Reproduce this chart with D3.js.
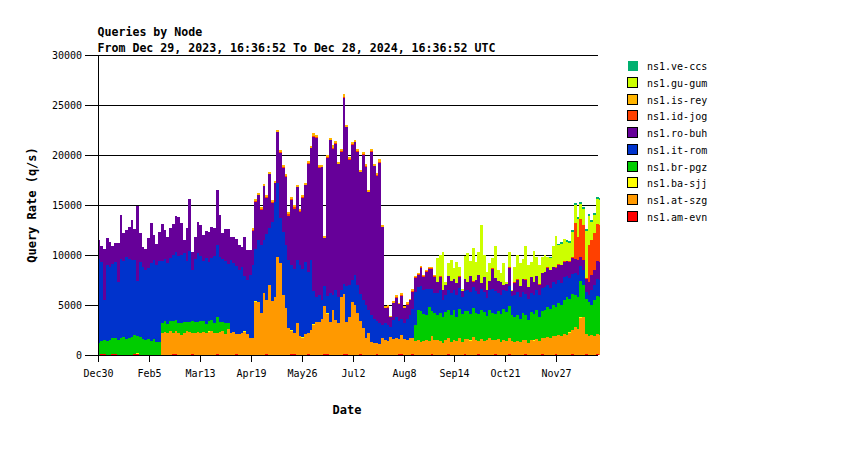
<!DOCTYPE html>
<html>
<head>
<meta charset="utf-8">
<script src="https://cdn.jsdelivr.net/npm/d3@7/dist/d3.min.js"></script>
<style>
  body { margin: 0; background: #fff; }
  text { font-family: "DejaVu Sans Mono", "Liberation Mono", monospace; }
</style>
</head>
<body>
<svg id="chart" width="850" height="450"></svg>
<script>
// ---- DATA (2-day bins, values in thousands of q/s) ----
const seriesNames = ["ns1.am-evn","ns1.at-szg","ns1.ba-sjj","ns1.br-pgz","ns1.it-rom","ns1.ro-buh","ns1.id-jog","ns1.is-rey","ns1.gu-gum","ns1.ve-ccs"];
const seriesColors = ["#ff0000","#ff9900","#ffff00","#00cc00","#0033cc","#660099","#ff4000","#ffb400","#ccff00","#00b070"];

const amEvn = [0,0.1,0.1,0,0,0.1,0.1,0,0,0, 0,0,0,0.1,0.1,0,0,0,0,0, 0,0,0,0,0,0,0,0.1,0.1,0, 0,0,0,0,0.1,0,0,0,0,0,
 0,0,0,0.1,0,0,0,0,0,0, 0.1,0,0,0,0,0,0,0,0,0, 0,0.1,0,0,0,0,0,0,0,0, 0.1,0.1,0,0,0,0,0.1,0,0,0,
 0,0,0.1,0.1,0,0,0,0,0,0.1, 0.1,0,0,0,0,0.1,0,0,0,0, 0,0.1,0,0,0,0,0,0,0,0.1, 0.1,0,0,0,0.1,0,0,0,0,0,
 0,0.1,0,0,0,0,0,0.1,0,0, 0,0,0,0.1,0,0,0,0,0.1,0, 0,0,0,0,0.1,0,0,0,0,0.1, 0,0,0,0,0,0.1,0,0,0,0,
 0,0.1,0,0,0,0,0.1,0,0,0, 0,0,0.1,0,0,0,0,0.1,0,0, 0,0.1,0];

const atSzg = [0,0,0,0,0,0,0,0,0,0,0,0,0,0,0,0,0,0,0,0,0,0,0,
 2.2,2.3,2.2,2.4,2.1,2.3,2.2,2.0,2.2,2.4,2.3,2.1,2.2,2.3,2.2,2.3,2.2,2.3,2.4,2.2,2.1,2.3,2.4,2.1,2.6,2.2,2.3,2.0,2.1,2.2,2.3,2.1,1.7,1.7,
 5.3,5.3,4.2,6.2,5.4,7.0,5.4,5.8,9.8,9.2,6.0,4.7,2.7,2.3,2.1,3.2,1.9,1.7,2.1,2.1,2.5,3.0,3.3,3.3,3.6,4.8,4.0,3.3,4.5,3.5,3.2,5.8,6.0,3.2,3.8,5.3,5.0,4.2,3.3,2.7,1.7,2.2,1.3,1.2,1.1,1.1,1.7,
 1.5,1.4,1.8,1.6,1.7,1.5,1.9,1.6,1.5,1.7,1.6,
 1.4,1.5,1.3,1.4,1.5,1.4,1.8,1.5,1.5,1.4,1.2,1.5,1.6,1.3,1.5,1.4,1.7,1.3,1.5,1.6,1.4,1.8,1.5,1.3,1.6,1.4,1.5,1.7,1.5,1.4,1.6,1.3,1.5,1.4,1.6,1.4,
 1.3,1.4,1.3,1.5,1.4,1.2,1.5,1.4,1.6,1.4,1.6,1.7,1.8,1.7,1.9,1.8,2.0,1.9,2.1,2.0,2.2,2.4,2.8,2.6,3.7,3.8,2.0,1.9,2.0,1.9,2.0,2.0];

const baSjj = [0,0,0,0,0,0,0,0,0,0, 0,0,0,0,0.1,0,0,0,0,0, 0,0,0,0,0,0,0,0,0,0, 0,0,0,0,0,0,0,0,0,0,
 0.1,0,0,0,0,0,0,0,0,0, 0,0,0,0.1,0,0,0,0.1,0,0, 0,0,0,0,0,0,0,0,0,0, 0.1,0,0,0,0.1,0,0,0,0.1,0,
 0,0,0,0.1,0,0,0,0,0,0, 0,0,0,0,0,0,0,0,0,0, 0,0,0,0,0,0,0,0,0,0, 0,0,0,0,0,0,0,0,0,0,
 0,0,0,0,0,0,0,0,0,0, 0,0,0,0,0,0.1,0,0,0,0, 0,0,0,0,0,0,0,0,0,0, 0,0,0,0,0,0,0,0,0.1,0,
 0,0,0,0,0,0,0,0,0,0, 0,0.1,0,0,0,0.1,0,0,0,0, 0,0,0];

const brPgz = [1.2,1.3,1.4,1.4,1.5,1.6,1.6,1.5,1.7,1.8,1.6,1.7,1.8,1.9,1.7,1.8,1.6,1.5,1.6,1.4,1.6,1.3,1.3,
 1.0,1.1,0.9,1.0,1.2,1.1,1.0,1.2,1.1,0.9,1.0,1.2,1.1,1.0,1.2,1.1,0.9,1.0,1.1,1.0,1.6,1.0,0.9,1.1,0.6,0,0,0,0,0,0,0,0,0,
 0,0,0,0,0,0,0,0,0,0,0,0,0,0,0,0,0,0,0,0,0,0,0,0,0,0,0,0,0,0,0,0,0,0,0,0,0,0,0,0,0,0,0,0,0,0,0,
 0,0,0,0,0,0,0,0,0,0,0,
 1.6,3.0,3.1,2.7,2.5,3.4,2.5,2.7,2.5,2.8,2.6,2.8,2.8,2.7,3.0,2.4,2.9,2.8,2.8,2.8,2.6,2.9,2.7,2.7,2.9,2.9,2.4,2.8,2.7,2.6,2.8,2.8,3.1,2.9,3.2,2.6,
 2.5,2.6,2.3,2.7,2.5,2.3,2.8,2.6,2.9,2.4,2.7,2.8,3.0,2.9,3.1,2.9,3.2,3.1,3.4,3.8,3.3,3.6,3.2,3.2,3.6,3.2,3.5,3.4,3.0,3.6,3.8,3.8];

const itRom = [8.4,7.9,4.0,7.6,7.3,7.4,7.6,5.8,7.9,7.6,8.2,7.9,7.7,7.5,5.5,7.5,7.2,7.0,7.1,7.8,7.9,7.7,8.1,
 6.2,6.2,6.1,6.3,6.6,6.8,6.7,6.8,6.9,6.1,7.1,5.1,6.3,6.9,6.5,6.0,6.6,5.9,6.2,6.7,7.2,6.5,6.3,6.2,5.9,7.3,6.9,6.8,6.4,6.6,5.5,5.4,6.3,7.3,
 5.2,6.2,6.8,5.3,6.6,5.7,7.9,9.5,7.4,4.5,6.3,6.3,6.8,6.5,6.4,6.3,7.1,6.8,7.2,6.1,7.0,3.3,2.5,2.7,1.9,2.0,1.7,2.9,1.5,3.0,2.6,0.7,1.0,3.6,3.2,2.2,3.0,2.8,2.7,2.8,3.3,2.3,2.7,2.4,2.2,2.1,1.3,
 1.7,1.6,1.0,1.9,2.1,1.8,1.6,1.6,2.1,2.3,2.9,
 3.3,2.3,2.5,2.4,2.6,1.8,2.2,2.0,2.2,2.3,1.7,1.7,2.0,2.2,2.0,2.2,2.1,1.7,2.0,2.1,2.2,2.1,2.2,2.0,2.1,2.0,1.8,2.0,2.4,2.3,1.8,1.9,1.9,2.1,2.0,1.9,
 2.2,2.3,2.2,2.1,2.1,2.1,1.9,1.9,2.0,2.2,2.3,2.3,2.2,2.1,2.3,2.3,2.3,2.2,2.3,2.1,2.1,2.0,2.2,2.2,1.5,1.5,0.7,0.7,1.5,1.5,1.7,1.7];

const roBuh = [1.9,1.6,5.1,2.7,2.5,1.8,1.9,3.9,4.4,2.8,2.7,3.2,4.0,3.1,7.5,2.9,2.0,2.1,3.0,4.0,2.5,2.1,2.9,
 3.7,2.9,2.6,3.0,3.1,3.6,3.9,3.2,1.3,3.3,5.2,1.8,2.2,3.1,3.1,2.6,2.7,3.0,3.1,2.8,5.5,4.2,2.6,3.2,3.5,2.3,2.6,2.7,2.5,2.0,3.9,3.0,2.5,3.4,
 4.7,4.5,3.5,5.4,3.6,5.4,1.9,1.9,5.1,6.5,6.4,6.8,4.4,6.5,6.0,7.3,5.3,7.1,7.7,10.8,11.2,15.4,15.9,12.7,13.3,4.8,13.8,15.3,14.6,14.6,13.3,13.8,18.6,15.9,12.5,13.5,13.3,13.3,12.2,14.5,13.8,11.8,16.3,15.3,14.5,16.0,9.8,
 1.5,1.7,1.0,1.7,1.9,1.7,2.3,1.5,1.4,1.5,1.7,
 1.4,1.2,1.8,1.3,1.7,2.0,2.0,1.6,1.1,1.3,1.0,1.0,1.4,1.2,1.1,1.2,1.1,0.6,1.2,0.8,1.6,0.5,1.1,1.9,0.6,1.5,0.8,0.9,2.0,1.3,1.2,1.3,0.5,0.7,1.8,0.5,
 1.2,1.2,1.1,1.3,1.4,1.2,1.6,1.3,1.4,1.0,1.5,1.5,1.7,1.8,1.5,1.6,1.5,1.8,1.5,1.5,1.6,1.6,1.4,1.5,0.9,1.0,1.3,1.3,1.5,1.5,1.8,1.8];

const idJog = [0,0,0,0,0,0,0,0,0,0,0,0,0,0,0,0,0,0,0,0,0,0,0,0,0,0,0,0,0,0,0,0,0,0,0,0,0,0,0,0,0,0,0,0,0,0,0,0,0,0,0,0,0,0,0,0,
 0.15,0.15,0,0.15,0,0.15,0,0.15,0,0,0.15,0.15,0.15,0.2,0.15,0.2,0,0.15,0.15,0,0.15,0,0.15,0.15,0.15,0,0,0.15,0,0.15,0.15,0,0.15,0.15,0,0.15,0.15,0,0.15,0,0.15,0.15,0,0.15,0,0.15,0.15,0,
 0,0.15,0,0,0.15,0,0.1,0,0.15,0,0.1,
 0.1,0.1,0.1,0.1,0.1,0.15,0.1,0.1,0,0.1,0,0,0,0,0,0,0.1,0,0,0,0,0.1,0,0,0,0,0,0,0.1,0,0,0,0,0,0.1,0,
 0.1,0.1,0,0,0.1,0,0,0,0,0.1,0,0,0.1,0,0,0.1,0.1,0,0.1,0,0.1,0.1,3.6,2.3,3.8,3.5,0.1,3.7,3.5,3.7,3.7,3.7];

const isRey = [0,0,0,0,0,0,0,0,0,0,0,0,0,0,0,0,0,0,0,0,0,0,0,0,0,0,0,0,0,0,0,0,0,0,0,0,0,0,0,0,0,0,0,0,0,0,0,0,0,0,0,0,0,0,0,0,
 0.15,0.2,0.2,0.2,0.25,0.2,0.2,0.2,0.2,0.25,0.2,0.2,0.2,0.2,0.2,0.2,0.25,0.2,0.2,0.2,0.2,0.2,0.25,0.2,0.2,0.2,0.2,0.2,0.2,0.25,0.2,0.2,0.2,0.25,0.2,0.2,0.2,0.2,0.2,0.25,0.2,0.2,0.2,0.2,0.2,0.2,0.25,0.2,
 0.2,0.2,0.15,0.2,0.2,0.15,0.2,0.2,0.2,0.15,0.2,
 0.1,0.1,0.1,0.1,0.1,0.1,0.1,0.1,0,0,0,0,0,0,0,0,0,0,0,0,0,0,0,0,0,0,0,0,0,0,0,0,0,0,0,0,
 0,0,0,0,0,0,0,0,0,0,0,0,0,0,0,0,0,0,0,0,0,0,0,0,0,0,0,0,0,0,0,0];

const guGum = [0,0,0,0,0,0,0,0,0,0,0,0,0,0,0,0,0,0,0,0,0,0,0,0,0,0,0,0,0,0,0,0,0,0,0,0,0,0,0,0,0,0,0,0,0,0,0,0,0,0,0,0,0,0,0,0,0,0,0,0,0,
 0,0,0,0,0,0,0,0,0,0,0,0,0,0,0,0,0,0,0,0,0,0,0,0,0,0,0,0,0,0,0,0,0,0,0,0,0,0,0,0,0,0,0,0,0,0,0,0,0,0,0,0,0,0,0,0,0,0,0,0,0,0,
 2.4,2.1,3.8,0.3,1.3,2.1,1.1,2.1,0.9,0.2,2.3,2.9,1.5,3.3,1.8,2.3,5.8,2.2,1.8,1.8,1.0,3.2,1.1,0.9,2.2,0.2,1.5,0.1,
 1.5,2.4,2.3,2.0,3.3,2.2,1.5,3.1,1.9,1.9,1.6,1.75,1.0,1.2,2.15,3.15,1.9,2.15,2.25,1.95,1.85,2.55,1.85,1.85,1.55,1.65,4.75,2.95,1.85,1.85,2.55,2.55];

const veCcs = [0,0,0,0,0,0,0,0,0,0,0,0,0,0,0,0,0,0,0,0,0,0,0,0,0,0,0,0,0,0,0,0,0,0,0,0,0,0,0,0,0,0,0,0,0,0,0,0,0,0,0,0,0,0,0,0,0,0,0,0,0,
 0,0,0,0,0,0,0,0,0,0,0,0,0,0,0,0,0,0,0,0,0,0,0,0,0,0,0,0,0,0,0,0,0,0,0,0,0,0,0,0,0,0,0,0,0,0,0,0,0,0,0,0,0,0,0,0,0,0,0,0,0,0,
 0,0,0,0,0,0,0,0,0,0,0,0,0,0,0,0,0,0,0,0,0,0,0,0,0,0,0,0,0,0,0,0,0,0,0,0,0,0,0,0,0,
 0.15,0,0,0.15,0.15,0,0.15,0.15,0.15,0.15,0.15,0.15,0.15,0.15,0.15,0.15,0.15,0.15,0.15,0.15,0.15];

const seriesValues = [amEvn, atSzg, baSjj, brPgz, itRom, roBuh, idJog, isRey, guGum, veCcs];
const UNIT = 1000;  // values above are thousands of q/s

const startTime = "2023-12-29T16:36:52Z";
const endTime = "2024-12-28T16:36:52Z";
const binDays = 2;

const yTickValues = [0, 5000, 10000, 15000, 20000, 25000, 30000];
const xTickDates = ["2023-12-30","2024-02-05","2024-03-13","2024-04-19","2024-05-26","2024-07-02","2024-08-08","2024-09-14","2024-10-21","2024-11-27"];
const xTickLabels = ["Dec30","Feb5","Mar13","Apr19","May26","Jul2","Aug8","Sep14","Oct21","Nov27"];

const titleLines = ["Queries by Node", "From Dec 29, 2023, 16:36:52 To Dec 28, 2024, 16:36:52 UTC"];
const xAxisTitle = "Date";
const yAxisTitle = "Query Rate (q/s)";

// ---- CHART ----
(function () {
const svg = d3.select("#chart");
const pL = 97.5, pR = 600, pT = 55, pB = 355;
const t0 = new Date(startTime), t1 = new Date(endTime);
const x = d3.scaleTime().domain([t0, t1]).range([pL, pR]);
const y = d3.scaleLinear().domain([0, 30000]).range([pB, pT]);

const nBins = amEvn.length;
const rows = d3.range(nBins).map(i => {
  const r = { date: new Date(t0.getTime() + i * binDays * 86400000) };
  seriesNames.forEach((n, k) => r[n] = seriesValues[k][i] * UNIT);
  return r;
});
rows.push(Object.assign({}, rows[rows.length - 1], { date: t1 }));

const stacked = d3.stack().keys(seriesNames)(rows);

svg.append("defs").append("clipPath").attr("id", "plotclip")
  .append("rect").attr("x", pL).attr("y", 0).attr("width", pR - pL).attr("height", pB + 1);

// gridlines (behind data)
svg.append("g").selectAll("line").data(yTickValues).join("line")
  .attr("x1", 85).attr("x2", pR - 2)
  .attr("y1", d => Math.round(y(d)) + 0.5).attr("y2", d => Math.round(y(d)) + 0.5)
  .attr("stroke", "#000").attr("stroke-width", 1).attr("shape-rendering", "crispEdges");

const area = d3.area()
  .curve(d3.curveStepAfter)
  .x(d => x(d.data.date))
  .y0(d => y(d[0]))
  .y1(d => y(d[1]));

svg.append("g").attr("clip-path", "url(#plotclip)")
  .selectAll("path").data(stacked).join("path")
  .attr("d", area)
  .attr("fill", (d, i) => seriesColors[i])
  .attr("shape-rendering", "crispEdges");

// axes lines
svg.append("line").attr("x1", Math.round(pL) + 0.5).attr("x2", Math.round(pL) + 0.5)
  .attr("y1", pT).attr("y2", pB + 1).attr("stroke", "#000").attr("shape-rendering", "crispEdges");
svg.append("line").attr("x1", 85).attr("x2", pR - 2)
  .attr("y1", pB + 0.5).attr("y2", pB + 0.5).attr("stroke", "#000").attr("shape-rendering", "crispEdges");

// y tick labels
svg.append("g").selectAll("text").data(yTickValues).join("text")
  .attr("x", 82).attr("y", d => y(d) + 4)
  .attr("text-anchor", "end").attr("font-size", 10).attr("fill", "#000")
  .text(d => d3.format("d")(d));

// x ticks
const parseDay = d3.utcParse("%Y-%m-%d");
const xt = svg.append("g").selectAll("g").data(xTickDates).join("g")
  .attr("transform", d => `translate(${Math.round(x(parseDay(d))) + 0.5},0)`);
xt.append("line").attr("y1", pB).attr("y2", pB + 7).attr("stroke", "#000").attr("shape-rendering", "crispEdges");
xt.append("text").attr("y", pB + 22).attr("text-anchor", "middle").attr("font-size", 10).attr("fill", "#000")
  .text((d, i) => xTickLabels[i]);

// titles
svg.append("g").selectAll("text").data(titleLines).join("text")
  .attr("x", pL).attr("y", (d, i) => 36 + i * 16)
  .attr("font-size", 11.6).attr("font-weight", "bold").attr("fill", "#000")
  .text(d => d);

svg.append("text").attr("x", 347).attr("y", 414).attr("text-anchor", "middle")
  .attr("font-size", 12).attr("font-weight", "bold").text(xAxisTitle);
svg.append("text").attr("transform", "translate(36,205) rotate(-90)").attr("text-anchor", "middle")
  .attr("font-size", 12).attr("font-weight", "bold").text(yAxisTitle);

// legend (top = last series)
const legendOrder = seriesNames.map((n, i) => i).reverse();
const lg = svg.append("g").selectAll("g").data(legendOrder).join("g")
  .attr("transform", (d, i) => `translate(627.5,${60.5 + i * 16.78})`);
lg.append("rect").attr("width", 10).attr("height", 10)
  .attr("fill", d => seriesColors[d])
  .attr("stroke", d => seriesNames[d] === "ns1.ve-ccs" ? "none" : "#000")
  .attr("shape-rendering", "crispEdges");
lg.append("text").attr("x", 19.5).attr("y", 9.5).attr("font-size", 10).attr("fill", "#000")
  .text(d => seriesNames[d]);
})();
</script>
</body>
</html>
